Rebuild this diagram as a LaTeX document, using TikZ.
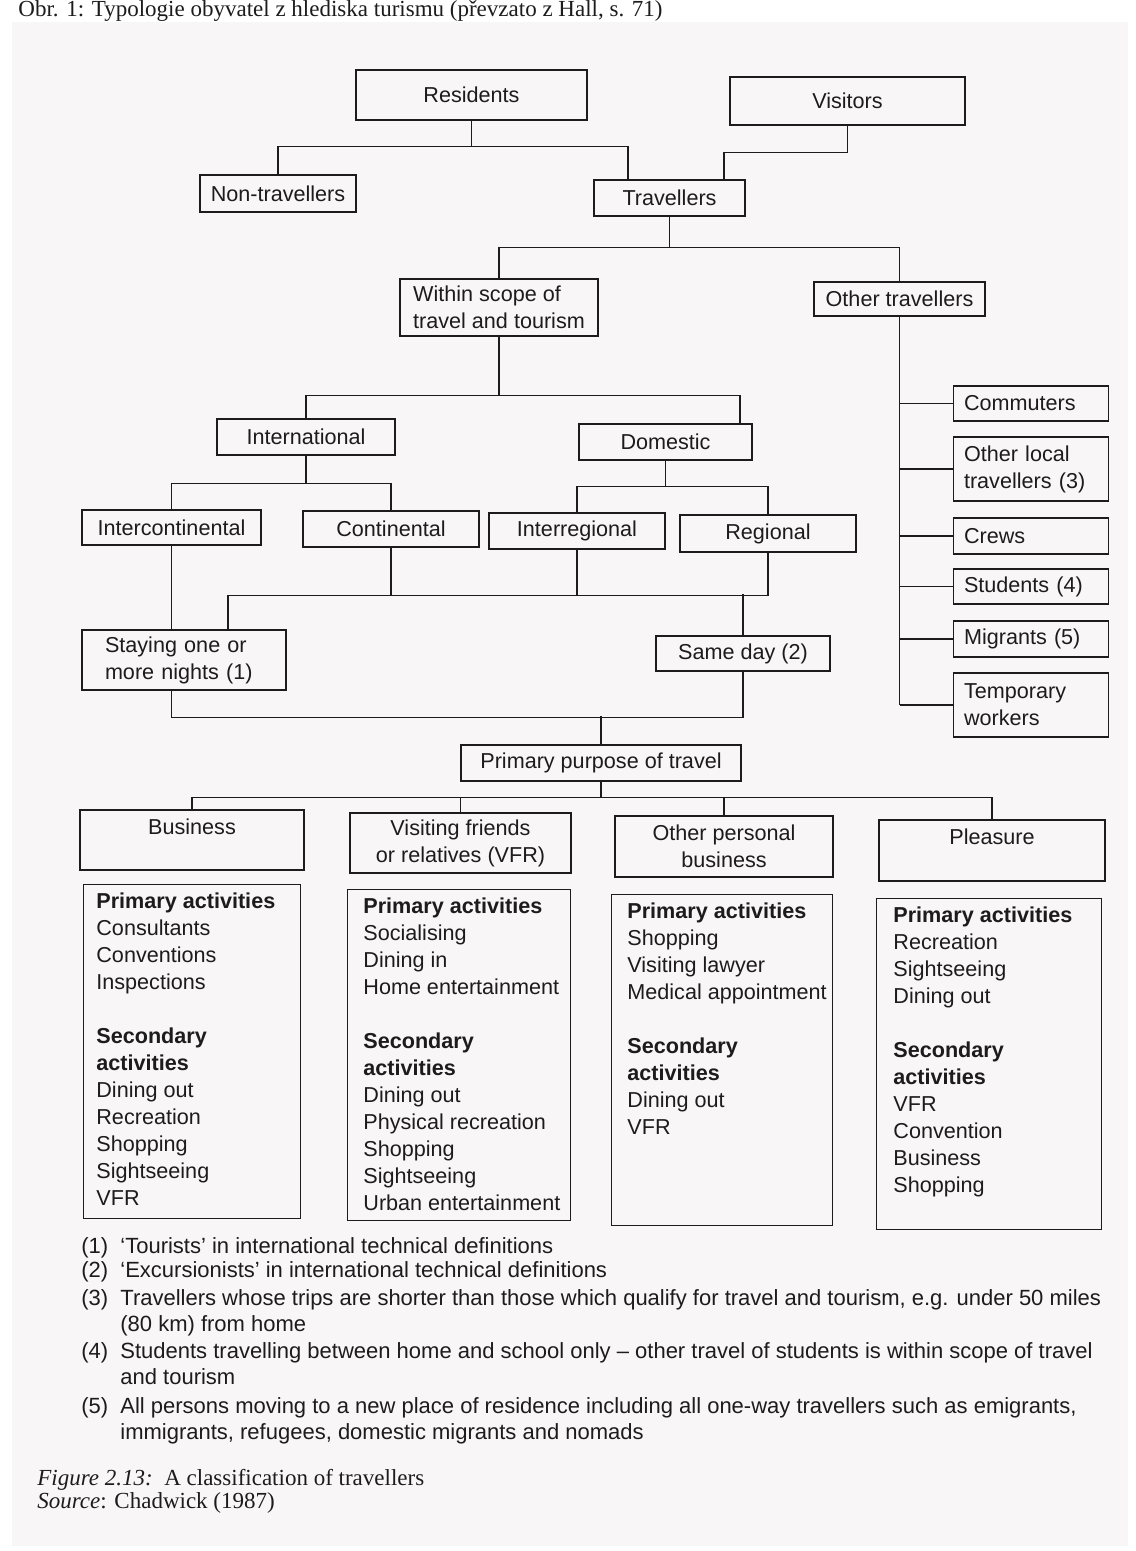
\documentclass[tikz,border=0pt]{standalone}
\usepackage{fontspec}
\setmainfont{Liberation Serif}
\setsansfont{Liberation Sans}
\definecolor{ink}{RGB}{28,28,28}
\definecolor{paper}{RGB}{248,246,246}
\newcommand{\dfont}{\sffamily\fontsize{10.8}{13.5}\selectfont}
\newcommand{\nfont}{\sffamily\fontsize{11}{13}\selectfont}

\begin{document}
\begin{tikzpicture}[x=0.5pt,y=-0.5pt,
  sz/.style 2 args={minimum width=#1*0.5pt, minimum height=#2*0.5pt},
  box/.style={draw=ink, line width=.7pt, inner sep=0pt, font=\dfont, text=ink, align=center},
  rbox/.style={box, align=left, text width=67pt, inner xsep=5.25pt},
  frame/.style={draw=ink, line width=.7pt, inner sep=0pt, anchor=north west},
  actlist/.style={anchor=north west, inner sep=0pt, align=left, font=\dfont, text=ink},
  link/.style={draw=ink, line width=.6pt},
  note/.style={anchor=base west, inner sep=0pt, font=\nfont, text=ink},
  capt/.style={anchor=base west, inner sep=0pt, text=ink}]
\useasboundingbox (0,0) rectangle (1135,1551);
\fill [white] (0,0) rectangle (1135,1551);
\fill [paper] (12,22) rectangle (1128,1546);

\node [capt, font=\fontsize{11.5}{14}\selectfont] (title) at (18,17) {Obr. 1: Typologie obyvatel z hlediska turismu (převzato z Hall, s. 71)};

% upper tree
\node [box, sz={231}{50}] (res) at (471.5,95) {Residents};
\node [box, sz={235}{48}] (vis) at (847.5,101) {Visitors};
\node [box, sz={156}{37}] (nontr) at (278,193.5) {Non-travellers};
\node [box, sz={151}{36}] (trav) at (669.5,198) {Travellers};
\node [box, sz={198}{57}, align=left] (within) at (499,307.5) {Within scope of\\travel and tourism};
\node [box, sz={171}{34}] (othtr) at (899.5,299) {Other travellers};
\node [box, sz={178}{36}] (intl) at (306,437) {International};
\node [box, sz={173}{36}] (dom) at (665.5,442) {Domestic};
\node [box, sz={179}{35}] (interc) at (171.5,527.5) {Intercontinental};
\node [box, sz={176}{36}] (cont) at (391,529) {Continental};
\node [box, sz={176}{36}] (interr) at (577,531) {Interregional};
\node [box, sz={176}{37}] (reg) at (768,533.5) {Regional};
\node [box, sz={204}{60}, align=left, text width=79pt, inner xsep=11.5pt] (stay) at (184,660) {Staying one or\\more nights (1)};
\node [box, sz={174}{35}] (same) at (743,653.5) {Same day (2)};
\node [box, sz={280}{36}] (ppt) at (601,763) {Primary purpose of travel};

% other travellers column
\node [rbox, sz={155}{35}] (comm) at (1031,403.5) {Commuters};
\node [rbox, sz={155}{64}] (loc) at (1031,469) {Other local\\travellers (3)};
\node [rbox, sz={155}{36}] (crews) at (1031,536) {Crews};
\node [rbox, sz={155}{35}] (stud) at (1031,586.5) {Students (4)};
\node [rbox, sz={155}{36}] (migr) at (1031,639) {Migrants (5)};
\node [rbox, sz={155}{64}] (temp) at (1031,705) {Temporary\\workers};

% purposes
\node [box, sz={224}{60}] (bus) at (192,840) {Business\\\mbox{}};
\node [box, sz={221}{60}] (vfr) at (460.5,843) {Visiting friends\\or relatives (VFR)};
\node [box, sz={218}{61}] (opb) at (724,846.5) {Other personal\\business};
\node [box, sz={226}{61}] (pls) at (992,850.5) {Pleasure\\\mbox{}};

% activity boxes
\node [frame, sz={217}{334}] (busfr) at (83,884) {};
\node [frame, sz={223}{331}] (vfrfr) at (347,889) {};
\node [frame, sz={221}{331}] (opbfr) at (611,894) {};
\node [frame, sz={225}{331}] (plsfr) at (876,898) {};
\node [actlist] (bustx) at ([shift={(13,8)}]busfr.north west) {\textbf{Primary activities}\\Consultants\\Conventions\\Inspections\\[13.5pt]\textbf{Secondary}\\\textbf{activities}\\Dining out\\Recreation\\Shopping\\Sightseeing\\VFR};
\node [actlist] (vfrtx) at ([shift={(16,8)}]vfrfr.north west) {\textbf{Primary activities}\\Socialising\\Dining in\\Home entertainment\\[13.5pt]\textbf{Secondary}\\\textbf{activities}\\Dining out\\Physical recreation\\Shopping\\Sightseeing\\Urban entertainment};
\node [actlist] (opbtx) at ([shift={(16,8)}]opbfr.north west) {\textbf{Primary activities}\\Shopping\\Visiting lawyer\\Medical appointment\\[13.5pt]\textbf{Secondary}\\\textbf{activities}\\Dining out\\VFR};
\node [actlist] (plstx) at ([shift={(17,8)}]plsfr.north west) {\textbf{Primary activities}\\Recreation\\Sightseeing\\Dining out\\[13.5pt]\textbf{Secondary}\\\textbf{activities}\\VFR\\Convention\\Business\\Shopping};

% connectors
\draw [link] (res.south) -- ++(0,26) -| (nontr.north);
\draw [link] (res.south) -- ++(0,26) -| (628,0 |- trav.north);
\draw [link] (vis.south) -- ++(0,27) -| (724,0 |- trav.north);
\draw [link] (trav.south) -- ++(0,31) -| (within.north);
\draw [link] (trav.south) -- ++(0,31) -| (othtr.north);
\draw [link] (within.south) -- ++(0,59) -| (intl.north);
\draw [link] (within.south) -- ++(0,59) -| (740,0 |- dom.north);
\draw [link] (intl.south) -- ++(0,28) -| (interc.north);
\draw [link] (intl.south) -- ++(0,28) -| (cont.north);
\draw [link] (dom.south) -- ++(0,26) -| (interr.north);
\draw [link] (dom.south) -- ++(0,26) -| (reg.north);
\draw [link] (cont.south) -- ++(0,48);
\draw [link] (interr.south) -- ++(0,46);
\draw [link] (reg.south) -- ++(0,43) -| (228,0 |- stay.north);
\draw [link] (same.north) -- ++(0,-41);
\draw [link] (interc.south) -- (interc.south |- stay.north);
\draw [link] (interc.south |- stay.south) -- ++(0,27) -| (same.south);
\draw [link] (ppt.north) -- ++(0,-28);
\draw [link] (ppt.south) -- ++(0,16) -| (bus.north);
\draw [link] (ppt.south) -- ++(0,16) -| (vfr.north);
\draw [link] (ppt.south) -- ++(0,16) -| (opb.north);
\draw [link] (ppt.south) -- ++(0,16) -| (pls.north);
\draw [link] (othtr.south) -- (othtr.south |- temp.west);
\foreach \n in {comm,loc,crews,stud,migr,temp}
  \draw [link] (othtr.south |- \n.west) -- (\n.west);

% notes
\node [note] (m1) at (81,1253) {(1)};
\node [note] (t1) at (120,1253) {‘Tourists’ in international technical definitions};
\node [note] (m2) at (81,1277) {(2)};
\node [note] (t2) at (120,1277) {‘Excursionists’ in international technical definitions};
\node [note] (m3) at (81,1305) {(3)};
\node [note] (t3) at (120,1305) {Travellers whose trips are shorter than those which qualify for travel and tourism, e.g. under 50 miles};
\node [note] (t3b) at (120,1331) {(80 km) from home};
\node [note] (m4) at (81,1358) {(4)};
\node [note] (t4) at (120,1358) {Students travelling between home and school only – other travel of students is within scope of travel};
\node [note] (t4b) at (120,1384) {and tourism};
\node [note] (m5) at (81,1413) {(5)};
\node [note] (t5) at (120,1413) {All persons moving to a new place of residence including all one-way travellers such as emigrants,};
\node [note] (t5b) at (120,1439) {immigrants, refugees, domestic migrants and nomads};

\node [capt, font=\fontsize{11.5}{13}\selectfont] (fig) at (37,1485) {\textit{Figure 2.13:}\ \ A classification of travellers};
\node [capt, font=\fontsize{11.5}{13}\selectfont] (src) at (37,1508) {\textit{Source}: Chadwick (1987)};
\end{tikzpicture}
\end{document}
